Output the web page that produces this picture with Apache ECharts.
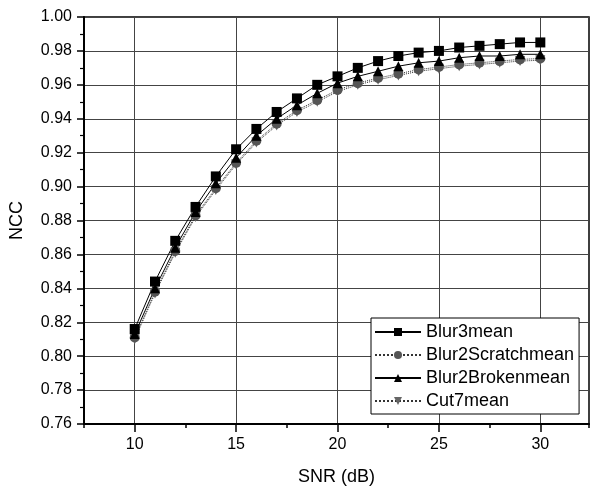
<!DOCTYPE html>
<html>
<head>
<meta charset="utf-8">
<script src="https://cdn.jsdelivr.net/npm/echarts@6/dist/echarts.min.js"></script>
<style>
  html, body { margin: 0; padding: 0; background: #fff; }
  #main { width: 591px; height: 491px; }
</style>
</head>
<body>
<div id="main"></div>
<script>
var snr = [10, 11, 12, 13, 14, 15, 16, 17, 18, 19, 20, 21, 22, 23, 24, 25, 26, 27, 28, 29, 30];
var blur3 = [0.816, 0.844, 0.868, 0.888, 0.906, 0.922, 0.934, 0.944, 0.952, 0.960, 0.965, 0.970, 0.974, 0.977, 0.979, 0.980, 0.982, 0.983, 0.984, 0.985, 0.985];
var blur2Scratch = [0.811, 0.838, 0.862, 0.883, 0.899, 0.914, 0.927, 0.937, 0.945, 0.951, 0.957, 0.961, 0.964, 0.9665, 0.969, 0.9705, 0.972, 0.973, 0.974, 0.975, 0.9755];
var blur2Broken = [0.813, 0.840, 0.864, 0.885, 0.902, 0.917, 0.930, 0.940, 0.948, 0.955, 0.961, 0.965, 0.968, 0.971, 0.973, 0.974, 0.976, 0.977, 0.977, 0.978, 0.978];
var cut7 = [0.810, 0.837, 0.861, 0.882, 0.898, 0.913, 0.926, 0.936, 0.944, 0.950, 0.956, 0.960, 0.963, 0.9655, 0.968, 0.9695, 0.971, 0.972, 0.973, 0.974, 0.9745];
var xMajor = [10, 15, 20, 25, 30];

function pairs(vals) {
    var out = [];
    for (var i = 0; i < snr.length; i++) {
        out.push([snr[i], vals[i]]);
    }
    return out;
}

var chart = echarts.init(document.getElementById('main'));
var font = 'Liberation Sans, Arial, sans-serif';

var option = {
    backgroundColor: '#fff',
    animation: false,
    grid: {
        left: 80, right: 2, top: 17, bottom: 66,
        show: true, borderColor: '#000', borderWidth: 1.5
    },
    xAxis: [{
        type: 'value', min: 7.5, max: 32.4, interval: 2.5,
        name: 'SNR (dB)', nameLocation: 'middle', nameGap: 44,
        nameTextStyle: { fontFamily: font, fontSize: 18, color: '#000' },
        axisLine: { lineStyle: { color: '#000', width: 2 } },
        axisTick: { length: 4, lineStyle: { color: '#000', width: 1.5 } },
        axisLabel: { customValues: xMajor, margin: 13, fontFamily: font, fontSize: 16, color: '#000' },
        splitLine: { show: false }
    }, {
        type: 'value', min: 7.5, max: 32.4, position: 'bottom',
        axisLine: { show: false },
        axisTick: { customValues: xMajor, length: 8, lineStyle: { color: '#000', width: 1.5 } },
        axisLabel: { show: false },
        splitLine: { show: true, lineStyle: { color: '#444', width: 1 } }
    }],
    yAxis: {
        type: 'value', min: 0.76, max: 1.0, interval: 0.02,
        name: 'NCC', nameLocation: 'middle', nameGap: 58, nameRotate: 90,
        nameTextStyle: { fontFamily: font, fontSize: 18, color: '#000' },
        axisLine: { show: true, lineStyle: { color: '#000', width: 2 } },
        axisTick: { show: true, length: 7, lineStyle: { color: '#000', width: 1.5 } },
        minorTick: { show: true, splitNumber: 2, length: 4, lineStyle: { color: '#000', width: 1.2 } },
        axisLabel: {
            margin: 12, fontFamily: font, fontSize: 16, color: '#000',
            formatter: function(v) { return v.toFixed(2); }
        },
        splitLine: { show: true, lineStyle: { color: '#444', width: 1 } }
    },
    legend: {
        orient: 'vertical', left: 371, top: 318,
        backgroundColor: '#fff', borderColor: '#000', borderWidth: 1,
        padding: [4, 5, 3, 3],
        itemWidth: 46, itemHeight: 10, itemGap: 3,
        textStyle: { fontFamily: font, fontSize: 18, color: '#000', lineHeight: 20 },
        data: ['Blur3mean', 'Blur2Scratchmean', 'Blur2Brokenmean', 'Cut7mean']
    },
    series: [{
        name: 'Cut7mean', type: 'line', data: pairs(cut7),
        symbol: 'triangle', symbolRotate: 180, symbolSize: 10,
        lineStyle: { color: '#333', width: 1, type: 'dotted' },
        itemStyle: { color: '#666' }
    }, {
        name: 'Blur2Scratchmean', type: 'line', data: pairs(blur2Scratch),
        symbol: 'circle', symbolSize: 10,
        lineStyle: { color: '#333', width: 1, type: 'dotted' },
        itemStyle: { color: '#555' }
    }, {
        name: 'Blur2Brokenmean', type: 'line', data: pairs(blur2Broken),
        symbol: 'triangle', symbolSize: 10,
        lineStyle: { color: '#000', width: 1 },
        itemStyle: { color: '#000' }
    }, {
        name: 'Blur3mean', type: 'line', data: pairs(blur3),
        symbol: 'rect', symbolSize: 10,
        lineStyle: { color: '#000', width: 1 },
        itemStyle: { color: '#000' }
    }]
};

chart.setOption(option);
</script>
</body>
</html>
